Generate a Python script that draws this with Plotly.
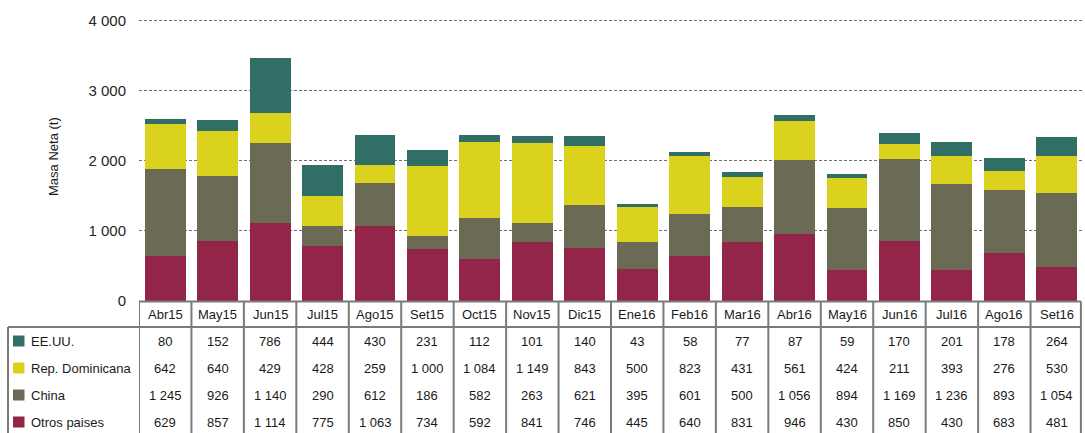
import plotly.graph_objects as go

# Monthly net mass (t) by destination
months = ["Abr15", "May15", "Jun15", "Jul15", "Ago15", "Set15", "Oct15", "Nov15", "Dic15",
          "Ene16", "Feb16", "Mar16", "Abr16", "May16", "Jun16", "Jul16", "Ago16", "Set16"]
eeuu = [80, 152, 786, 444, 430, 231, 112, 101, 140, 43, 58, 77, 87, 59, 170, 201, 178, 264]
rep_dom = [642, 640, 429, 428, 259, 1000, 1084, 1149, 843, 500, 823, 431, 561, 424, 211, 393, 276, 530]
china = [1245, 926, 1140, 290, 612, 186, 582, 263, 621, 395, 601, 500, 1056, 894, 1169, 1236, 893, 1054]
otros = [629, 857, 1114, 775, 1063, 734, 592, 841, 746, 445, 640, 831, 946, 430, 850, 430, 683, 481]

y_ticks = [0, 1000, 2000, 3000, 4000]

# (name, values, colour) listed top-to-bottom as in the data table
series = [
    ("EE.UU.", eeuu, "#316f66"),
    ("Rep. Dominicana", rep_dom, "#dbd21d"),
    ("China", china, "#6b6a54"),
    ("Otros paises", otros, "#932549"),
]

W, H = 1085, 433
L, R, T, B = 139, 2, 16, 132
PW, PH = W - L - R, H - T - B
SCALE = 0.07  # pixels per tonne
Y_RANGE = [-0.5 / SCALE, (H - B - 0.5 - T) / SCALE]


def py(pix):
    """Pixel row -> paper y."""
    return (H - B - pix) / PH


def px(pix):
    """Pixel column -> paper x."""
    return (pix - L) / PW


fig = go.Figure()
x_idx = list(range(len(months)))
for name, vals, col in reversed(series):
    fig.add_trace(go.Bar(x=x_idx, y=vals, name=name, marker=dict(color=col, line=dict(width=0)),
                         width=0.78, showlegend=False))

font = "Liberation Sans, Arial, sans-serif"
txt = "#1a1a1a"
line_col = "#7a7a7a"

shapes = []
annotations = []
n = len(months)
x_end = n - 0.5 - 0.04  # right edge of the data table

# header row top and table top
shapes.append(dict(type="line", xref="x", yref="paper", x0=-0.5, x1=x_end,
                   y0=py(301.5), y1=py(301.5), line=dict(color=line_col, width=2)))
shapes.append(dict(type="line", xref="paper", yref="paper", x0=px(8), x1=0, y0=py(327), y1=py(327),
                   line=dict(color=line_col, width=2)))
shapes.append(dict(type="line", xref="x", yref="paper", x0=-0.5, x1=x_end, y0=py(327), y1=py(327),
                   line=dict(color=line_col, width=2)))
# column separators
for i in range(n + 1):
    xv = x_end if i == n else i - 0.5
    shapes.append(dict(type="line", xref="x", yref="paper", x0=xv, x1=xv,
                       y0=py(301.5), y1=py(440), line=dict(color=line_col, width=2)))
shapes.append(dict(type="line", xref="paper", yref="paper", x0=px(8), x1=px(8),
                   y0=py(327), y1=py(440), line=dict(color=line_col, width=2)))

# month headers
for i, m in enumerate(months):
    annotations.append(dict(x=i, y=py(314.5), xref="x", yref="paper", text=m, showarrow=False,
                            font=dict(family=font, size=13, color=txt), xanchor="center", yanchor="middle"))

row_y = [341, 368, 395, 422]
for (name, vals, col), ry in zip(series, row_y):
    shapes.append(dict(type="rect", xref="paper", yref="paper", x0=px(13), x1=px(24.5),
                       y0=py(ry - 5.5), y1=py(ry + 5.5), fillcolor=col, line=dict(width=0)))
    annotations.append(dict(x=px(29), y=py(ry), xref="paper", yref="paper", text=name, showarrow=False,
                            font=dict(family=font, size=13, color=txt), xanchor="left", yanchor="middle"))
    for i, v in enumerate(vals):
        annotations.append(dict(x=i, y=py(ry), xref="x", yref="paper", text=f"{v:,}".replace(",", " "),
                                showarrow=False, font=dict(family=font, size=13, color=txt),
                                xanchor="center", yanchor="middle"))

# y-axis title
annotations.append(dict(x=px(53), y=py(157), xref="paper", yref="paper", text="Masa Neta (t)",
                        textangle=-90, showarrow=False, font=dict(family=font, size=13, color=txt),
                        xanchor="center", yanchor="middle"))

fig.update_layout(
    width=W, height=H,
    margin=dict(l=L, r=R, t=T, b=B),
    paper_bgcolor="white", plot_bgcolor="white",
    barmode="stack", bargap=0.22,
    separators=", ",
    shapes=shapes, annotations=annotations,
    xaxis=dict(range=[-0.5, n - 0.5], showticklabels=False, showgrid=False, zeroline=False,
               showline=False, fixedrange=True),
    yaxis=dict(range=Y_RANGE, tickvals=y_ticks, tickformat=",d", showgrid=True,
               gridcolor="#707070", griddash="3px,2px", gridwidth=1.2, zeroline=False, showline=False,
               ticks="", ticklabelstandoff=12,
               tickfont=dict(family=font, size=15, color="#262626")),
)

fig.write_html("out.html")
